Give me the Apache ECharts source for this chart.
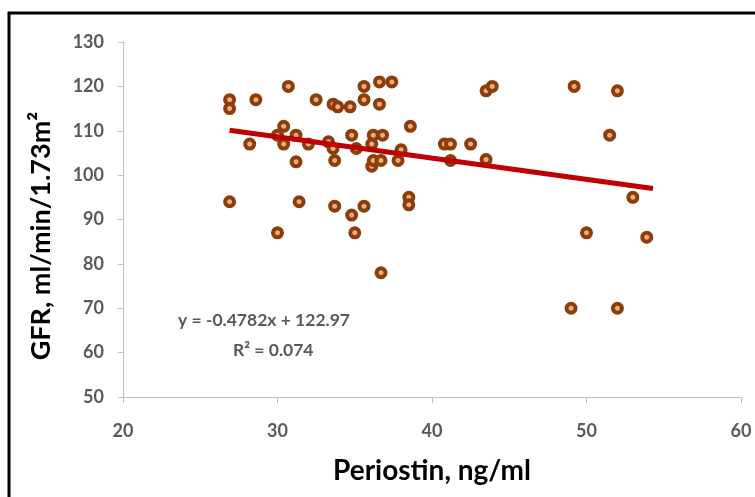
<!DOCTYPE html>
<html><head><meta charset="utf-8">
<script src="https://cdn.jsdelivr.net/npm/echarts@6/dist/echarts.min.js"></script>
<style>html,body{margin:0;padding:0;background:#fff}#c{width:755px;height:497px}</style>
</head><body><div id="c"></div>
<script>
const periostin = [26.9,26.9,26.9,28.6,28.2,30.0,30.7,30.4,30.0,31.2,30.4,32.0,31.2,31.4,32.5,33.6,33.9,34.7,33.3,33.6,33.7,33.7,34.8,35.1,34.8,35.0,35.6,35.6,35.6,36.6,37.4,36.6,36.2,36.8,36.1,36.1,36.2,36.7,36.7,37.8,38.0,38.6,38.5,38.5,40.8,41.2,42.5,41.2,43.5,43.5,43.9,49.2,52.0,51.5,53.0,50.0,53.9,49.0,52.0];
const gfr = [117,115,94,117,107,87,120,111,109,109,107,107,103,94,117,116,115.4,115.4,107.5,106,103.3,93,109,106,91,87,120,117,93,121,121,116,109,109,107,102,103.3,103.3,78,103.3,105.7,111,95,93.3,107,107,107,103.3,103.5,119,120,120,119,109,95,87,86,70,70];
const trendX = [26.9, 54.3];
const trendY = [110.1, 97.0];
const xTicks = [20, 30, 40, 50, 60];
const yTicks = [50, 60, 70, 80, 90, 100, 110, 120, 130];
const xTitle = 'Periostin, ng/ml';
const yTitle = 'GFR, ml/min/1.73m²';
const eqText = 'y = -0.4782x + 122.97';
const r2Text = 'R² = 0.074';

const chart = echarts.init(document.getElementById('c'));
const font = 'Lato, "Open Sans", sans-serif';
chart.setOption({
  animation: false,
  backgroundColor: '#fff',
  grid: { left: 123, right: 14, top: 42, bottom: 100 },
  xAxis: {
    type: 'value', min: xTicks[0], max: xTicks[xTicks.length-1], interval: 10,
    name: xTitle, nameLocation: 'middle', nameGap: 60,
    nameTextStyle: { color: '#000', fontSize: 28, fontWeight: 'bold', fontFamily: font },
    axisLine: { show: true, lineStyle: { color: '#bfbfbf', width: 1 } },
    axisTick: { show: true, length: 6, lineStyle: { color: '#bfbfbf' } },
    axisLabel: { color: '#595959', fontSize: 18, fontWeight: 'bold', fontFamily: font, margin: 25 },
    splitLine: { show: false }
  },
  yAxis: {
    type: 'value', min: yTicks[0], max: yTicks[yTicks.length-1], interval: 10,
    axisLine: { show: true, lineStyle: { color: '#bfbfbf', width: 1 } },
    axisTick: { show: true, length: 5, lineStyle: { color: '#bfbfbf' } },
    axisLabel: { color: '#595959', fontSize: 18, fontWeight: 'bold', fontFamily: font, margin: 19 },
    splitLine: { show: false }
  },
  series: [
    {
      type: 'line', data: trendX.map((x, i) => [x, trendY[i]]),
      showSymbol: false, symbol: 'none',
      lineStyle: { color: '#c00000', width: 5 }, z: 3
    },
    {
      type: 'scatter', data: periostin.map((x, i) => [x, gfr[i]]),
      symbol: 'circle', symbolSize: 9,
      itemStyle: { color: '#f2ae7a', borderColor: '#8b3e0c', borderWidth: 4, opacity: 1 },
      z: 2
    }
  ],
  graphic: [
    { type: 'rect', shape: { x: 9, y: 13, width: 800, height: 600 }, style: { fill: 'none', stroke: '#000', lineWidth: 3 }, silent: true },
    { type: 'text', x: 41, y: 236, rotation: Math.PI / 2,
      style: { text: yTitle, fill: '#000', font: 'bold 27px ' + font, align: 'center', verticalAlign: 'middle' } },
    { type: 'text', left: 178, top: 311, style: { text: eqText, fill: '#595959', font: 'bold 17.5px ' + font } },
    { type: 'text', left: 233, top: 341, style: { text: r2Text, fill: '#595959', font: 'bold 17.5px ' + font } }
  ]
});
</script></body></html>
